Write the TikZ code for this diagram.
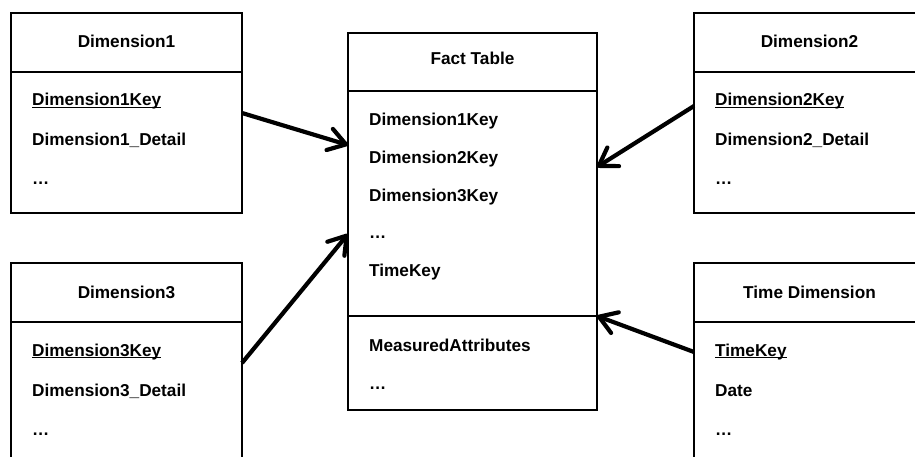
\documentclass[tikz,border=0pt]{standalone}
\usepackage{fontspec}
\setmainfont{Liberation Sans}
\usetikzlibrary{arrows.meta}
% key field: underline drawn just under the baseline
\newcommand\keyul[1]{\setbox0\hbox{#1}\rlap{\rule[-2.3pt]{\wd0}{1.4pt}}\box0}

\begin{document}
\begin{tikzpicture}[x=1pt,y=-1pt,
  table/.style={draw, line width=2pt, rectangle, inner sep=0pt, outer sep=0pt,
    anchor=north west, minimum width=231pt, minimum height=200pt},
  divider/.style={line width=2pt},
  item/.style={anchor=base west, inner sep=0pt, font=\bfseries\fontsize{17.2}{20}\selectfont},
  title/.style={anchor=base, inner sep=0pt, font=\bfseries\fontsize{17.2}{20}\selectfont},
  link/.style={line width=4.2pt, -{Straight Barb[length=17pt,width=22pt,round]}}]
\useasboundingbox (0,0) rectangle (915,457);
\clip (0,0) rectangle (915,457);

% tables
\node[table] (dim1) at (11,13) {};
\node[table] (dim2) at (694,13) {};
\node[table] (dim3) at (11,263) {};
\node[table] (time) at (694,263) {};
\node[table, minimum width=249pt, minimum height=377pt] (fact) at (348,33) {};

% compartment lines
\foreach \t in {dim1,dim2,dim3,time}
  \draw[divider] ([yshift=-59pt]\t.north west) -- ([yshift=-59pt]\t.north east);
\draw[divider] ([yshift=-58pt]fact.north west) -- ([yshift=-58pt]fact.north east);
\draw[divider] ([yshift=-283pt]fact.north west) -- ([yshift=-283pt]fact.north east);

% titles
\node[title] (dim1t) at (126.5,48) {Dimension1};
\node[title] (dim2t) at (809.5,48) {Dimension2};
\node[title] (dim3t) at (126.5,298) {Dimension3};
\node[title] (timet) at (809.5,298) {Time Dimension};
\node[title] (factt) at (472.5,65) {Fact Table};

% dimension fields
\node[item] (dim1a) at (32,106) {\keyul{Dimension1Key}};
\node[item] (dim1b) at (32,146) {Dimension1\_Detail};
\node[item] (dim1c) at (32,185) {…};
\node[item] (dim2a) at (715,106) {\keyul{Dimension2Key}};
\node[item] (dim2b) at (715,146) {Dimension2\_Detail};
\node[item] (dim2c) at (715,185) {…};
\node[item] (dim3a) at (32,356) {\keyul{Dimension3Key}};
\node[item] (dim3b) at (32,396) {Dimension3\_Detail};
\node[item] (dim3c) at (32,435) {…};
\node[item] (timea) at (715,356) {\keyul{TimeKey}};
\node[item] (timeb) at (715,396) {Date};
\node[item] (timec) at (715,435) {…};

% fact fields
\node[item] (facta) at (369,126) {Dimension1Key};
\node[item] (factb) at (369,163.5) {Dimension2Key};
\node[item] (factc) at (369,201) {Dimension3Key};
\node[item] (factd) at (369,238.5) {…};
\node[item] (facte) at (369,276) {TimeKey};
\node[item] (factf) at (369,351) {MeasuredAttributes};
\node[item] (factg) at (369,389) {…};

% references from the dimensions to the fact table
\draw[link] (dim1.east) -- ([yshift=76.5pt]fact.west);
\draw[link] ([yshift=7pt]dim2.west) -- ([yshift=54.5pt]fact.east);
\draw[link] (dim3.east) -- ([yshift=-12.5pt]fact.west);
\draw[link] ([yshift=11pt]time.west) -- ([yshift=-94.5pt]fact.east);
\end{tikzpicture}
\end{document}
